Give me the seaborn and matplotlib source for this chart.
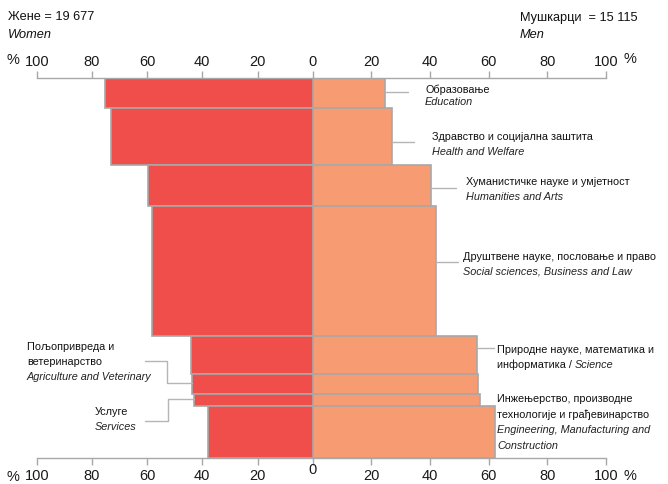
import seaborn as sns
import matplotlib.pyplot as plt
import numpy as np

sns.set_theme(style='white')
plt.rcParams['font.family'] = ['Liberation Sans', 'DejaVu Sans']

# Data: share of all graduates per field (%), and women / men share within the field (%)
fields_sr = ['Образовање', 'Здравство и социјална заштита', 'Хуманистичке науке и умјетност',
             'Друштвене науке, пословање и право', 'Природне науке, математика и информатика',
             'Пољопривреда и ветеринарство', 'Услуге',
             'Инжењерство, производне технологије и грађевинарство']
fields_en = ['Education', 'Health and Welfare', 'Humanities and Arts',
             'Social sciences, Business and Law', 'Science', 'Agriculture and Veterinary',
             'Services', 'Engineering, Manufacturing and Construction']
share = [8.0, 15.0, 10.8, 34.2, 9.8, 5.3, 3.2, 13.7]
women_pct = [75.2, 73.1, 59.8, 58.1, 44.1, 43.6, 43.0, 38.0]
men_pct = [24.8, 26.9, 40.2, 41.9, 55.9, 56.4, 57.0, 62.0]
women_total = '19 677'
men_total = '15 115'

red = '#F04E4B'
salmon = '#F69B72'
gray = '#a8a8a8'

W, H = 668, 485
fig = plt.figure(figsize=(W / 100, H / 100), dpi=100)


def fx(x):
    return x / W


def fy(y):
    return 1 - y / H


top, bot = 78.5, 459
ax_l = fig.add_axes([fx(36.7), fy(bot), fx(312.7 - 36.7), (bot - top) / H])
ax_r = fig.add_axes([fx(312.7), fy(bot), fx(606 - 312.7), (bot - top) / H])

share = np.array(share)
starts = np.concatenate([[0], np.cumsum(share)[:-1]])
centers = starts + share / 2

ax_l.barh(centers, women_pct, height=share, color=red, edgecolor=gray, linewidth=1.2)
ax_r.barh(centers, men_pct, height=share, color=salmon, edgecolor=gray, linewidth=1.2)

ax_l.set_xlim(100, 0)
ax_r.set_xlim(0, 100)
ax_l.set_xticks([100, 80, 60, 40, 20, 0])
ax_r.set_xticks([20, 40, 60, 80, 100])
for ax in (ax_l, ax_r):
    ax.set_ylim(100, 0)
    ax.set_yticks([])
    ax.set_facecolor('none')
    for s in ('left', 'right'):
        ax.spines[s].set_visible(False)
    for s in ('top', 'bottom'):
        ax.spines[s].set_color(gray)
        ax.spines[s].set_linewidth(1.0)
    ax.tick_params(axis='x', top=True, bottom=True, labeltop=True, labelbottom=True,
                   direction='out', length=5, width=1, color=gray, labelsize=10.5,
                   labelcolor='#1a1a1a', pad=2)

# the lower "0" sits a little higher in the original
fig.canvas.draw()
ax_l.xaxis.get_major_ticks()[-1].label1.set_visible(False)
fig.text(fx(312.7), fy(470), '0', fontsize=10.5, ha='center', va='center', color='#1a1a1a')

# percent signs
for (x, y) in [(13, 60), (13, 477), (630, 59), (630, 476)]:
    fig.text(fx(x), fy(y), '%', fontsize=10.5, ha='center', va='center', color='#1a1a1a')

# headers
head = dict(fontsize=9.2, va='center', color='#111111')
fig.text(fx(8), fy(17.5), 'Жене = ' + women_total, **head)
fig.text(fx(8), fy(35), 'Women', style='italic', **head)
fig.text(fx(520), fy(17.5), 'Мушкарци  = ' + men_total, **head)
fig.text(fx(520), fy(35), 'Men', style='italic', **head)

lab = dict(fontsize=7.8, va='center', color='#111111')
ital = dict(fontsize=7.8, va='center', color='#222222', style='italic')

# right-hand labels
fig.text(fx(425), fy(89.5), fields_sr[0], **lab)
fig.text(fx(425), fy(102), fields_en[0], **ital)
fig.text(fx(432), fy(137), fields_sr[1], **lab)
fig.text(fx(432), fy(152), fields_en[1], **ital)
fig.text(fx(466), fy(182), fields_sr[2], **lab)
fig.text(fx(466), fy(197), fields_en[2], **ital)
fig.text(fx(463), fy(257), fields_sr[3], **lab)
fig.text(fx(463), fy(272), fields_en[3], **ital)
fig.text(fx(497), fy(350), 'Природне науке, математика и', **lab)
t = fig.text(fx(497), fy(365), 'информатика / ', **lab)
fig.canvas.draw()
bb = t.get_window_extent()
fig.text(bb.x1 / W, fy(365), fields_en[4], **ital)
fig.text(fx(497), fy(399), 'Инжењерство, производне', **lab)
fig.text(fx(497), fy(414.5), 'технологије и грађевинарство', **lab)
fig.text(fx(497), fy(430), 'Engineering, Manufacturing and', **ital)
fig.text(fx(497), fy(446), 'Construction', **ital)

# left-hand labels
fig.text(fx(27), fy(347), 'Пољопривреда и', **lab)
fig.text(fx(27), fy(362), 'ветеринарство', **lab)
fig.text(fx(27), fy(377), fields_en[5], **ital)
fig.text(fx(95), fy(412), fields_sr[6], **lab)
fig.text(fx(95), fy(427), fields_en[6], **ital)

# leader lines (pixel coordinates)
leaders = [
    [(386, 92.5), (408, 92.5)],
    [(392, 143), (414, 143)],
    [(432, 189), (456, 189)],
    [(436, 263), (458, 263)],
    [(477, 349), (494, 349)],
    [(145, 362), (167, 362), (167, 384), (192, 384)],
    [(145, 421.5), (168, 421.5), (168, 400), (194, 400)],
]
for pts in leaders:
    xs = [fx(p[0]) for p in pts]
    ys = [fy(p[1]) for p in pts]
    fig.add_artist(plt.Line2D(xs, ys, color='#b5b5b5', linewidth=1.0))

plt.savefig('out.png', dpi=100)
